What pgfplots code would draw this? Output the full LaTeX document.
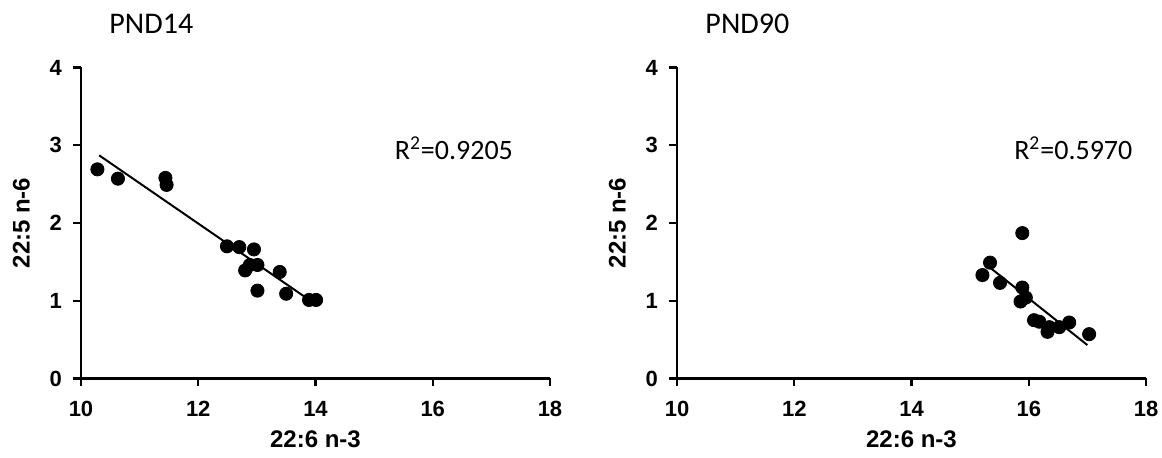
\documentclass[border=0pt]{standalone}
\usepackage{fontspec}
\setmainfont{Liberation Sans}
\newfontfamily\calibri{Carlito}
\usepackage{pgfplots}
\pgfplotsset{compat=1.18}

\pgfplotsset{
  pnd/.style={
    scale only axis, width=234.5pt, height=155.5pt,
    xmin=10, xmax=18, ymin=0, ymax=4,
    xtick={10,12,14,16,18}, ytick={0,1,2,3,4},
    axis x line*=bottom, axis y line*=left,
    axis line style={line width=1.2pt},
    every tick/.style={line width=1.2pt, black},
    tick align=outside, major tick length=4pt,
    tick label style={font=\bfseries\fontsize{11}{12}\selectfont},
    xticklabel style={yshift=-4pt},
    yticklabel style={xshift=-2pt},
    /pgf/number format/assume math mode=true,
    xlabel={22:6 n-3}, ylabel={22:5 n-6},
    label style={font=\bfseries\fontsize{12}{14}\selectfont},
    ylabel style={yshift=3pt},
    clip=false,
  },
  dots/.style={only marks, mark=*, mark size=3.3pt, black},
  fit/.style={no marks, line width=1pt, black},
}

\begin{document}
\begin{tikzpicture}
\useasboundingbox (-40.5pt,-39.75pt) rectangle (540.5pt,189.25pt);

% PND14
\begin{axis}[pnd, at={(0,0)}, anchor=south west]
\addplot[dots] coordinates {
(10.28,2.69) (10.63,2.57) (11.44,2.58) (11.46,2.49)
(12.49,1.70) (12.70,1.69) (12.95,1.66) (12.80,1.39)
(12.88,1.46) (13.01,1.46) (13.39,1.37) (13.01,1.13)
(13.50,1.09) (13.89,1.01) (14.01,1.01)
};
\addplot[fit] coordinates {(10.31,2.87) (14.01,0.95)};
\node[font=\calibri\fontsize{14}{16}\selectfont] at (axis cs:16.36,2.96) {R\textsuperscript{2}=0.9205};
\node[font=\calibri\fontsize{15}{17}\selectfont] at (axis cs:11.2,4.56) {PND14};
\end{axis}

% PND90
\begin{axis}[pnd, at={(298pt,0)}, anchor=south west]
\addplot[dots] coordinates {
(15.89,1.87) (15.34,1.49) (15.21,1.33) (15.51,1.23)
(15.89,1.17) (15.95,1.04) (15.86,0.99) (16.09,0.75)
(16.18,0.73) (16.35,0.66) (16.32,0.60) (16.52,0.66)
(16.69,0.72) (17.03,0.57)
};
\addplot[fit] coordinates {(15.30,1.45) (17.00,0.43)};
\node[font=\calibri\fontsize{14}{16}\selectfont] at (axis cs:16.76,2.96) {R\textsuperscript{2}=0.5970};
\node[font=\calibri\fontsize{15}{17}\selectfont] at (axis cs:11.2,4.56) {PND90};
\end{axis}
\end{tikzpicture}
\end{document}
